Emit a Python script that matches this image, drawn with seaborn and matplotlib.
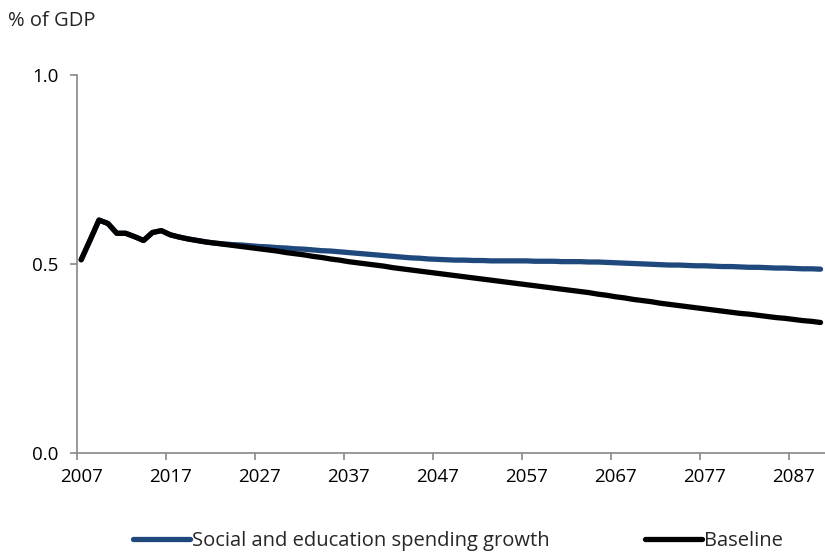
import numpy as np
import pandas as pd
import matplotlib
matplotlib.use("Agg")
import matplotlib.pyplot as plt
import seaborn as sns

years = list(range(2007, 2091))

baseline = [
    0.511, 0.563, 0.616, 0.607, 0.581, 0.581, 0.572, 0.562, 0.583, 0.588,
    0.577, 0.571, 0.566, 0.562, 0.558,
    0.555, 0.552, 0.549, 0.546, 0.543, 0.540, 0.537, 0.534, 0.530, 0.527,
    0.524, 0.520, 0.517, 0.513, 0.510, 0.506, 0.503, 0.500, 0.497, 0.494,
    0.490, 0.487, 0.484, 0.481, 0.478, 0.475, 0.472, 0.469, 0.466, 0.463,
    0.460, 0.457, 0.454, 0.451, 0.448, 0.445, 0.442, 0.439, 0.436, 0.433,
    0.430, 0.427, 0.424, 0.420, 0.417, 0.413, 0.410, 0.406, 0.403, 0.400,
    0.396, 0.393, 0.390, 0.387, 0.384, 0.381, 0.378, 0.375, 0.372, 0.369,
    0.367, 0.364, 0.361, 0.358, 0.356, 0.353, 0.350, 0.348, 0.345,
]

social_edu = [
    0.511, 0.563, 0.616, 0.607, 0.581, 0.581, 0.572, 0.562, 0.583, 0.588,
    0.577, 0.571, 0.566, 0.562, 0.558,
    0.555, 0.553, 0.551, 0.550, 0.548, 0.546, 0.545, 0.543, 0.542, 0.540,
    0.539, 0.537, 0.535, 0.534, 0.532, 0.530, 0.528, 0.526, 0.524, 0.522,
    0.520, 0.518, 0.516, 0.515, 0.513, 0.512, 0.511, 0.510, 0.510, 0.509,
    0.509, 0.508, 0.508, 0.508, 0.508, 0.508, 0.507, 0.507, 0.507, 0.506,
    0.506, 0.506, 0.505, 0.505, 0.504, 0.503, 0.502, 0.501, 0.500, 0.499,
    0.498, 0.497, 0.497, 0.496, 0.495, 0.495, 0.494, 0.493, 0.493, 0.492,
    0.491, 0.491, 0.490, 0.489, 0.489, 0.488, 0.487, 0.487, 0.486,
]

series_names = ["Social and education spending growth", "Baseline"]
series_colors = ["#1F497D", "#000000"]
xtick_labels = [str(y) for y in range(2007, 2091, 10)]
ytick_values = [0.0, 0.5, 1.0]
y_title = "% of GDP"

assert len(baseline) == len(years) == len(social_edu)

sns.set_theme(style="white")
plt.rcParams["font.family"] = ["Open Sans", "DejaVu Sans"]

fig = plt.figure(figsize=(8.25, 5.55), dpi=100)
ax = fig.add_axes([0.093, 0.184, 0.907, 0.681])

df = pd.DataFrame({"year": years, series_names[0]: social_edu, series_names[1]: baseline})
for name, col in zip(series_names, series_colors):
    sns.lineplot(data=df, x="year", y=name, ax=ax, color=col, lw=3.8,
                 label=name, solid_capstyle="round", solid_joinstyle="round")

ax.set_xlim(2006.5, 2090.5)
ax.set_ylim(0, 1.0)
ax.set_xlabel("")
ax.set_ylabel("")

ax.set_yticks(ytick_values)
ax.set_yticklabels([f"{v:.1f}" for v in ytick_values], fontsize=13.5, color="#000000")
ax.set_xticks([int(t) for t in xtick_labels])
ax.set_xticklabels(xtick_labels, fontsize=13.5, color="#000000")
ax.set_xticks(np.arange(2006.5, 2091, 10), minor=True)
ax.tick_params(axis="x", which="major", length=0, pad=11)
ax.tick_params(axis="x", which="minor", length=5, width=1.2, color="#888888", direction="out", bottom=True)
ax.tick_params(axis="y", which="major", length=5, width=1.2, color="#888888", direction="out", left=True, pad=8)

for s in ["top", "right"]:
    ax.spines[s].set_visible(False)
for s in ["left", "bottom"]:
    ax.spines[s].set_color("#888888")
    ax.spines[s].set_linewidth(1.2)
ax.grid(False)

ax.get_legend().remove()
handles, labels = ax.get_legend_handles_labels()
fig.legend(handles, labels, loc="center", bbox_to_anchor=(0.555, 0.025), ncol=2,
           frameon=False, fontsize=14.5, handlelength=2.85, handletextpad=0.1,
           columnspacing=4.7)

fig.text(0.01, 0.963, y_title, fontsize=14.5, ha="left", va="center")

fig.savefig("out.png", dpi=100)
